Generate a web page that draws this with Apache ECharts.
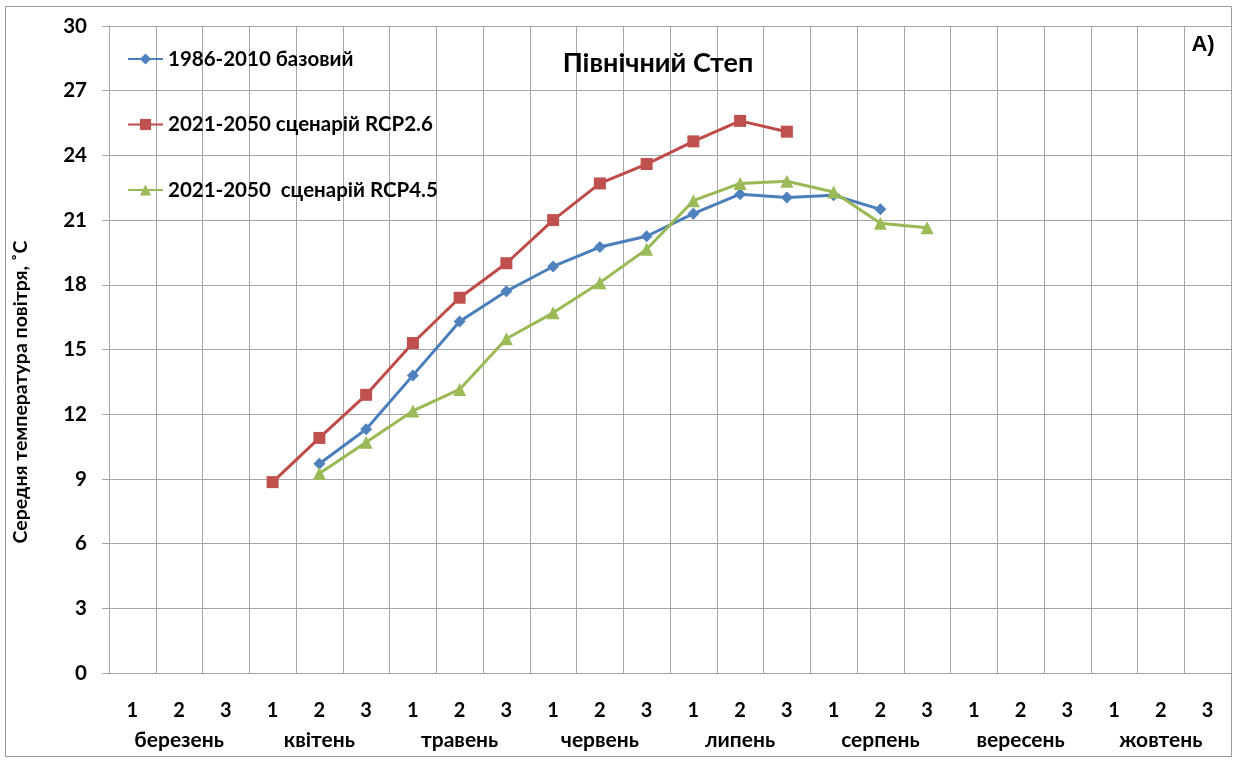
<!DOCTYPE html>
<html>
<head>
<meta charset="utf-8">
<script src="https://cdn.jsdelivr.net/npm/echarts@6/dist/echarts.min.js"></script>
<style>
  html, body { margin: 0; padding: 0; background: #fff; }
  #main { width: 1238px; height: 760px; }
</style>
</head>
<body>
<div id="main"></div>
<script>
// декади по місяцях
var months = ['березень', 'квітень', 'травень', 'червень', 'липень', 'серпень', 'вересень', 'жовтень'];
var decades = ['1', '2', '3'];
var categories = [];
months.forEach(function (m) {
	decades.forEach(function (d) { categories.push(m + ' ' + d); });
});

var seriesNames = ['1986-2010 базовий', '2021-2050 сценарій RCP2.6', '2021-2050  сценарій RCP4.5'];
var base = [null, null, null, null, 9.7, 11.3, 13.8, 16.3, 17.7, 18.85, 19.75, 20.25, 21.3, 22.2, 22.05, 22.15, 21.5, null, null, null, null, null, null, null];
var rcp26 = [null, null, null, 8.85, 10.9, 12.9, 15.3, 17.4, 19.0, 21.0, 22.7, 23.6, 24.65, 25.6, 25.1, null, null, null, null, null, null, null, null, null];
var rcp45 = [null, null, null, null, 9.25, 10.7, 12.15, 13.15, 15.5, 16.7, 18.1, 19.65, 21.9, 22.7, 22.8, 22.3, 20.85, 20.65, null, null, null, null, null, null];
var yTicks = [0, 3, 6, 9, 12, 15, 18, 21, 24, 27, 30];

var font = 'Lato, "Open Sans", sans-serif';
var gridColor = '#a6a6a6';

var chart = echarts.init(document.getElementById('main'));
var option = {
	backgroundColor: '#fff',
	animation: false,
	title: {
		text: 'Північний Степ',
		left: 653,
		top: 45,
		textAlign: 'center',
		textStyle: { fontFamily: font, fontWeight: 'bold', fontSize: 27, color: '#000' }
	},
	legend: {
		orient: 'vertical',
		left: 122,
		top: 43,
		itemGap: 43.5,
		itemWidth: 35,
		itemHeight: 14,
		data: seriesNames,
		textStyle: { fontFamily: font, fontWeight: 'bold', fontSize: 20.5, color: '#000', lineHeight: 22 }
	},
	grid: { left: 109, top: 26, right: 7, bottom: 87 },
	xAxis: {
		type: 'category',
		data: categories,
		boundaryGap: true,
		axisLine: { lineStyle: { color: gridColor } },
		axisTick: { length: 8, lineStyle: { color: gridColor } },
		splitLine: { show: true, lineStyle: { color: gridColor } },
		axisLabel: {
			interval: 0,
			margin: 23,
			formatter: function (v, i) {
				var d = decades[i % 3];
				if (i % 3 === 1) return '{d|' + d + '}\n{m|' + months[Math.floor(i / 3)] + '}';
				return '{d|' + d + '}';
			},
			rich: {
				d: { fontFamily: font, fontWeight: 'bold', fontSize: 20, color: '#000', lineHeight: 30 },
				m: { fontFamily: font, fontWeight: 'bold', fontSize: 21, color: '#000', lineHeight: 28 }
			}
		}
	},
	yAxis: {
		type: 'value',
		min: yTicks[0],
		max: yTicks[yTicks.length - 1],
		interval: 3,
		axisLine: { show: true, lineStyle: { color: gridColor } },
		axisTick: { show: true, length: 7, lineStyle: { color: gridColor } },
		splitLine: { lineStyle: { color: gridColor } },
		axisLabel: { margin: 22, fontFamily: font, fontWeight: 'bold', fontSize: 20.5, color: '#000' }
	},
	graphic: [
		{
			type: 'rect', silent: true, z: -1,
			shape: { x: 5.5, y: 6.5, width: 1226, height: 750 },
			style: { fill: 'none', stroke: '#9a9a9a', lineWidth: 1 }
		},
		{
			type: 'text', x: 1203, y: 45,
			style: { text: 'А)', font: 'bold 22px "Liberation Sans", Arial, sans-serif', fill: '#000', align: 'center', verticalAlign: 'middle' }
		},
		{
			type: 'text', x: 21, y: 392, rotation: Math.PI / 2,
			style: { text: 'Середня температура повітря, ˚С', font: 'bold 19.5px Lato, "Liberation Sans", sans-serif', fill: '#000', align: 'center', verticalAlign: 'middle' }
		}
	],
	series: [
		{
			name: seriesNames[0], type: 'line', data: base,
			symbol: 'diamond', symbolSize: 12,
			lineStyle: { width: 3, color: '#4a7ebb' },
			itemStyle: { color: '#4f81bd' }
		},
		{
			name: seriesNames[1], type: 'line', data: rcp26,
			symbol: 'rect', symbolSize: 12,
			lineStyle: { width: 3, color: '#be4b48' },
			itemStyle: { color: '#c0504d' }
		},
		{
			name: seriesNames[2], type: 'line', data: rcp45,
			symbol: 'triangle', symbolSize: 13,
			lineStyle: { width: 3, color: '#98b954' },
			itemStyle: { color: '#9bbb59' }
		}
	]
};
chart.setOption(option);
</script>
</body>
</html>
